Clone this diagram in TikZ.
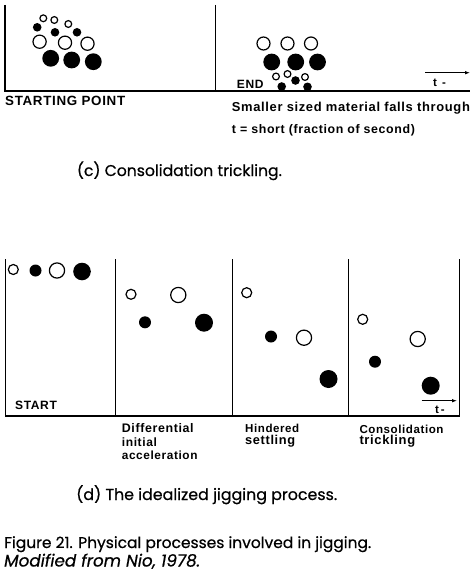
\documentclass[tikz,border=0pt]{standalone}
\usepackage{fontspec}
\setmainfont{Liberation Sans}
\newfontfamily\lblfont{Liberation Sans}[LetterSpace=5]
\newfontfamily\capfont{Poppins}[FakeBold=0.6]
\usetikzlibrary{arrows.meta}
\newcommand\fitw[2]{\resizebox{#1pt}{!}{#2}}
\begin{document}
\begin{tikzpicture}[x=1pt,y=-1pt]
\tikzset{
  lbl/.style={inner sep=0pt, anchor=base west, font=\lblfont\bfseries},
  lbltop/.style={inner sep=0pt, anchor=north west, align=left},
  tlbl/.style={inner sep=0pt, anchor=base west, font=\lblfont\bfseries\fontsize{11.5}{12}\selectfont},
  captext/.style={inner sep=0pt, anchor=base west, font=\capfont},
  wall/.style={line width=1.3pt},
  opn/.style={line width=1.2pt},
  arr/.style={line width=0.9pt, -{Latex[length=5pt,width=3.6pt]}}
}
\useasboundingbox (0,0) rectangle (475,578);

% ---------- (c) top panel ----------
\coordinate (tl) at (5,5);
\coordinate (bl) at (5,91);
\coordinate (tm) at (215.5,5);
\coordinate (bm) at (215.5,91);
\coordinate (br) at (470,91);
\draw[wall] (tl) -- (bl) -- (br);
\draw[wall] (tm) -- (bm);

% starting point cluster
\draw[opn] (43.3,18.3) circle[radius=3.4];
\draw[opn] (54.3,20) circle[radius=3.4];
\draw[opn] (68.3,24) circle[radius=3.4];
\fill (37.2,27.3) circle[radius=4.3];
\fill (55,32.3) circle[radius=4.3];
\fill (77,32.3) circle[radius=4.3];
\draw[opn] (39.6,41.7) circle[radius=6.6];
\draw[opn] (65,42.7) circle[radius=6.6];
\draw[opn] (87.5,43.7) circle[radius=6.6];
\fill (50.7,58.3) circle[radius=8.4];
\fill (71.7,60) circle[radius=8.4];
\fill (93.3,61.7) circle[radius=8.4];

% end cluster
\draw[opn] (263.5,43.5) circle[radius=6.5];
\draw[opn] (287.5,43.5) circle[radius=6.5];
\draw[opn] (311,43.5) circle[radius=6.5];
\fill (271.7,62) circle[radius=8.4];
\fill (295.7,62) circle[radius=8.4];
\fill (317.5,62) circle[radius=8.4];
\draw[opn] (276,76.5) circle[radius=3.4];
\draw[opn] (287.5,74) circle[radius=3.4];
\draw[opn] (305,77) circle[radius=3.4];
\fill (281.7,86.5) circle[radius=4.3];
\fill (295.5,80.5) circle[radius=4.3];
\fill (307.5,86.8) circle[radius=4.3];

\coordinate (a1s) at (425,72.7);
\coordinate (a1e) at (470,72.7);
\draw[arr] (a1s) -- (a1e);

\node[lbl] (sp) at (5,105) {\fitw{120}{STARTING POINT}};
\node[lbl] (end) at (236.7,88) {\fitw{26.6}{END}};
\node[tlbl] (tt1) at (433,86) {t\;\,-};
\node[lbl] (smaller) at (231.7,111.5) {\fitw{238}{Smaller sized material falls through}};
\node[lbl] (tshort) at (231.7,133) {\fitw{183}{t = short (fraction of second)}};
\node[captext] (capc) at (76.7,176) {\fitw{205}{(c) Consolidation trickling.}};

% ---------- (d) bottom panel ----------
\coordinate (p0t) at (5.5,259);
\coordinate (p0b) at (5.5,416);
\coordinate (p1t) at (115.5,259);
\coordinate (p1b) at (115.5,416);
\coordinate (p2t) at (232.5,259);
\coordinate (p2b) at (232.5,416);
\coordinate (p3t) at (348.5,259);
\coordinate (p3b) at (348.5,416);
\coordinate (p4t) at (459.5,259);
\coordinate (p4b) at (459.5,416);
\draw[wall] (p0t) -- (p0b) -- (p4b) -- (p4t);
\draw[wall] (p1t) -- (p1b);
\draw[wall] (p2t) -- (p2b);
\draw[wall] (p3t) -- (p3b);

% panel 1
\draw[opn] (13.3,269.5) circle[radius=5];
\fill (35.5,270.5) circle[radius=6];
\draw[opn] (57,270.5) circle[radius=7.6];
\fill (82,271.5) circle[radius=8.8];
% panel 2
\draw[opn] (131,294.3) circle[radius=5];
\draw[opn] (178.3,295) circle[radius=7.6];
\fill (145,322.3) circle[radius=6];
\fill (204,322.7) circle[radius=9];
% panel 3
\draw[opn] (246.7,292.7) circle[radius=5];
\fill (271,336.5) circle[radius=6];
\draw[opn] (304,337.7) circle[radius=7.6];
\fill (328.5,379) circle[radius=9];
% panel 4
\draw[opn] (362.7,319.3) circle[radius=5];
\draw[opn] (417.7,339) circle[radius=7.6];
\fill (375,361.7) circle[radius=6];
\fill (430.7,385.7) circle[radius=9];

\coordinate (a2s) at (421.7,400.7);
\coordinate (a2e) at (457,400.7);
\draw[arr] (a2s) -- (a2e);

\node[lbl] (start) at (15,409.5) {\fitw{41.7}{START}};
\node[tlbl] (tt2) at (435,413.5) {t\,-};
\node[lbltop, font=\lblfont\bfseries\fontsize{10}{13.3}\selectfont] (diff) at (121.7,423.5)
  {\fitw{71.7}{Differential}\\\fitw{35}{initial}\\\fitw{75.6}{acceleration}};
\node[lbltop, font=\lblfont\bfseries\fontsize{10}{11.5}\selectfont] (hind) at (245,424)
  {\fitw{54}{Hindered}\\\fitw{50}{settling}};
\node[lbltop, font=\lblfont\bfseries\fontsize{10}{11.7}\selectfont] (cons) at (359.3,424.5)
  {\fitw{84}{Consolidation}\\\fitw{55.7}{trickling}};

\node[captext] (capd) at (76,500) {\fitw{261}{(d) The idealized jigging process.}};
\node[captext] (fig) at (4,548) {\fitw{367}{Figure 21. Physical processes involved in jigging.}};
\node[captext] (mod) at (4,566.5) {\fitw{196}{\itshape Modified from Nio, 1978.}};
\end{tikzpicture}
\end{document}
